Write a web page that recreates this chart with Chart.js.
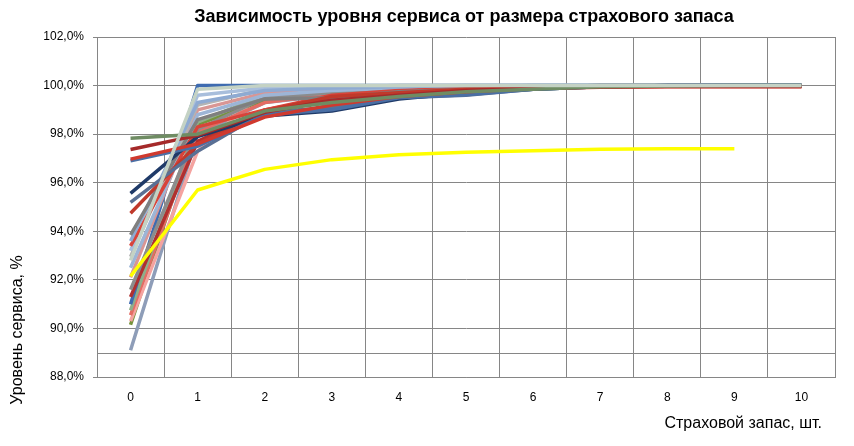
<!DOCTYPE html>
<html>
<head>
<meta charset="utf-8">
<script src="https://cdn.jsdelivr.net/npm/chart.js@4.4.0/dist/chart.umd.min.js"></script>
<style>
  html, body { margin: 0; padding: 0; background: #fff; }
  #wrap { width: 854px; height: 446px; }
</style>
</head>
<body>
<div id="wrap"><canvas id="serviceGraph"></canvas></div>
<script>
// safety stock, pcs (x axis categories)
var stockLabels = ["0","1","2","3","4","5","6","7","8","9","10"];
var yTicks = [88, 90, 92, 94, 96, 98, 100, 102];

// the yellow one (stops at 9)
var avgLevel = [92.15, 95.7, 96.55, 96.95, 97.15, 97.25, 97.32, 97.38, 97.4, 97.4, null];

// all other items, service level % by safety stock
var itemLevels = [
    [92.8, 99.85, 100, 100, 100, 100, 100, 100, 100, 100, 100],
    [97.83, 98.0, 98.95, 99.3, 99.55, 99.75, 99.85, 99.95, 99.98, 100, 100],
    [97.37, 97.95, 98.9, 99.4, 99.6, 99.8, 99.9, 99.95, 99.97, 99.98, 99.98],
    [96.97, 97.6, 98.7, 99.2, 99.55, 99.75, 99.88, 99.93, 99.95, 99.95, 99.95],
    [96.9, 97.5, 98.8, 99.0, 99.5, 99.62, 99.85, 99.95, 99.98, 100, 100],
    [95.56, 97.9, 98.75, 98.95, 99.45, 99.7, 99.85, 99.95, 100, 100, 100],
    [95.19, 97.3, 98.9, 99.1, 99.5, 99.6, 99.85, 99.95, 100, 100, 100],
    [94.74, 97.6, 98.95, 99.55, 99.7, 99.85, 99.9, 99.95, 99.97, 99.97, 99.97],
    [93.85, 98.6, 99.45, 99.5, 99.75, 99.85, 99.95, 100, 100, 100, 100],
    [93.6, 99.3, 99.8, 99.9, 99.95, 100, 100, 100, 100, 100, 100],
    [93.4, 98.3, 99.0, 99.6, 99.8, 99.9, 99.95, 99.97, 99.97, 99.97, 99.97],
    [93.2, 99.6, 99.9, 99.95, 100, 100, 100, 100, 100, 100, 100],
    [92.95, 99.2, 99.85, 99.95, 100, 100, 100, 100, 100, 100, 100],
    [92.5, 98.8, 99.6, 99.8, 99.9, 99.95, 100, 100, 100, 100, 100],
    [92.1, 99.0, 99.7, 99.85, 99.95, 99.97, 99.97, 99.97, 99.97, 99.97, 99.97],
    [91.6, 98.2, 99.5, 99.7, 99.85, 99.9, 99.95, 100, 100, 100, 100],
    [91.3, 97.7, 99.0, 99.5, 99.75, 99.9, 99.95, 99.96, 99.96, 99.96, 99.96],
    [91.0, 100.0, 100.0, 100, 100, 100, 100, 100, 100, 100, 100],
    [90.75, 98.5, 99.6, 99.8, 99.9, 99.95, 100, 100, 100, 100, 100],
    [90.55, 98.1, 99.3, 99.65, 99.8, 99.9, 99.95, 99.97, 99.97, 99.97, 99.97],
    [90.3, 97.3, 99.85, 99.95, 99.97, 99.97, 99.97, 99.97, 99.97, 99.97, 99.97],
    [90.15, 98.4, 99.4, 99.6, 99.8, 99.9, 99.95, 100, 100, 100, 100],
    [89.1, 98.0, 99.3, 99.6, 99.8, 99.9, 99.95, 100, 100, 100, 100]
];
var itemColors = [
    "#c4d2c4", "#6f8c63", "#a52a2a", "#d0392e", "#4a6fa5",
    "#1f3a68", "#5a7094", "#c0392b", "#7f7f7f", "#8eaad2",
    "#d8443a", "#a8bedc", "#b4b4b4", "#9db5d6", "#d99694",
    "#8c8c8c", "#b03030", "#3e6bb0", "#8fae8a", "#e46c64",
    "#f4a3a0", "#77933c", "#8e9db8"
];

var datasets = [{
    data: avgLevel,
    borderColor: "#ffff00",
    borderWidth: 3.5
}];
for (var i = 0; i < itemLevels.length; i++) {
    datasets.push({
        data: itemLevels[i],
        borderColor: itemColors[i],
        borderWidth: 3.5
    });
}

var gridColor = "#868686";

// titles + the extra 89% line, drawn by hand like the original
var extras = {
    id: 'extras',
    beforeDatasetsDraw: function(chart) {
        var ctx = chart.ctx, a = chart.chartArea;
        var y = Math.round(chart.scales.y.getPixelForValue(89)) + 0.5;
        ctx.save();
        ctx.strokeStyle = gridColor;
        ctx.lineWidth = 1;
        ctx.beginPath();
        ctx.moveTo(a.left, y);
        ctx.lineTo(a.right, y);
        ctx.stroke();
        ctx.restore();
    },
    afterDraw: function(chart) {
        var ctx = chart.ctx;
        ctx.save();
        ctx.fillStyle = "#000";
        ctx.textBaseline = "middle";
        ctx.font = "bold 18px 'Liberation Sans'";
        ctx.textAlign = "center";
        ctx.fillText("Зависимость уровня сервиса от размера страхового запаса", 464, 17);
        ctx.font = "16px 'Liberation Sans'";
        ctx.textAlign = "right";
        ctx.fillText("Страховой запас, шт.", 822, 424);
        ctx.translate(18, 330);
        ctx.rotate(-Math.PI / 2);
        ctx.textAlign = "center";
        ctx.fillText("Уровень сервиса, %", 0, 0);
        ctx.restore();
    }
};

var serviceConfig = {
    type: 'line',
    data: {
        labels: stockLabels,
        datasets: datasets
    },
    options: {
        responsive: true,
        maintainAspectRatio: false,
        animation: false,
        layout: { padding: { top: 37, right: 19, left: 0, bottom: 0 } },
        elements: {
            line: { tension: 0, borderCapStyle: 'butt', borderJoinStyle: 'round' },
            point: { radius: 0, hoverRadius: 0 }
        },
        plugins: {
            legend: { display: false },
            title: { display: false },
            tooltip: { enabled: false }
        },
        scales: {
            x: {
                offset: true,
                grid: { offset: true, color: gridColor, lineWidth: 1, drawTicks: false },
                border: { color: gridColor },
                ticks: { padding: 13, color: "#000", font: { family: "'Liberation Sans'", size: 12 }, maxRotation: 0 },
                afterFit: function(scale) { scale.height = 69; }
            },
            y: {
                min: 88,
                max: 102,
                afterBuildTicks: function(scale) {
                    scale.ticks = yTicks.map(function(v) { return { value: v }; });
                },
                grid: { color: gridColor, lineWidth: 1, tickLength: 4 },
                border: { color: gridColor },
                ticks: {
                    padding: 9,
                    color: "#000",
                    font: { family: "'Liberation Sans'", size: 12 },
                    callback: function(v) { return v.toFixed(1).replace('.', ',') + '%'; }
                },
                afterFit: function(scale) { scale.width = 97; }
            }
        }
    },
    plugins: [extras]
};

var serviceCtx = document.getElementById("serviceGraph");
var serviceChart = new Chart(serviceCtx, serviceConfig);
</script>
</body>
</html>
